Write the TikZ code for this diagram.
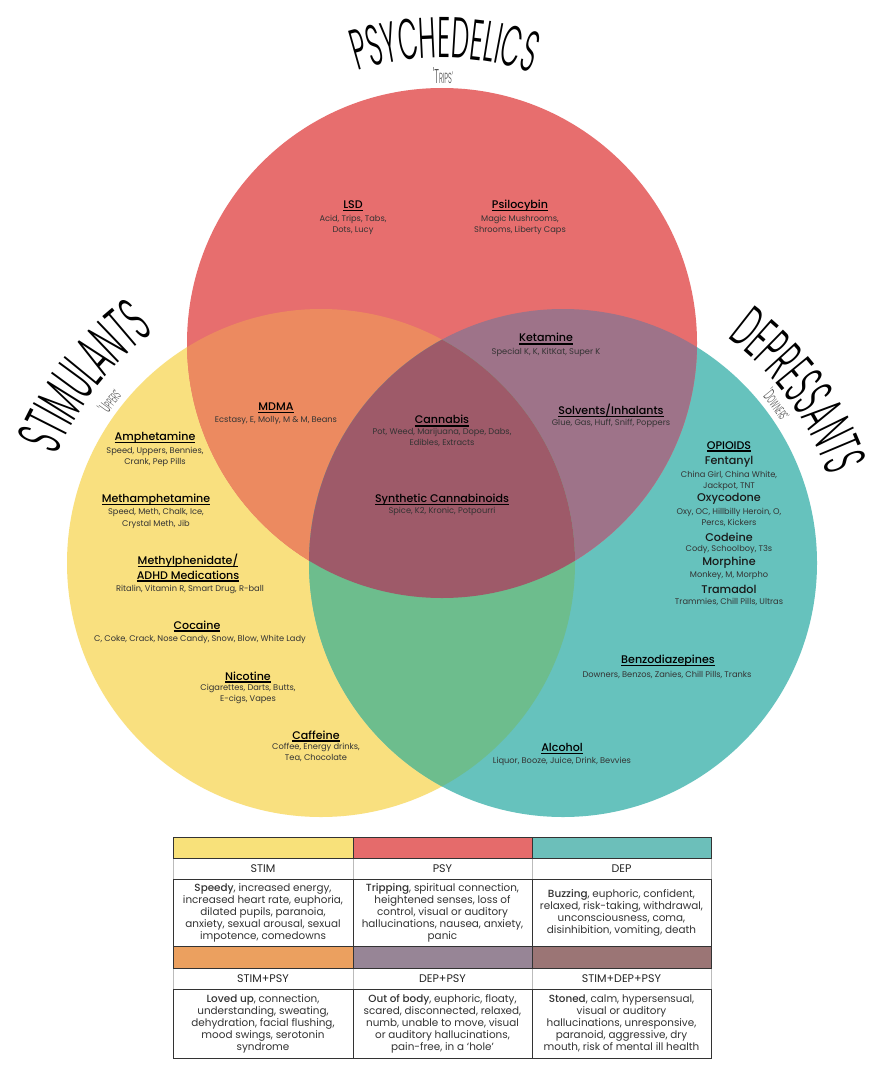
\documentclass[tikz,border=0pt]{standalone}
\usepackage{fontspec}
\setmainfont{Poppins}
\IfFontExistsTF{Poppins Medium}{\newfontfamily\medf{Poppins Medium}}{\newfontfamily\medf{Poppins}}
\IfFontExistsTF{Poppins Light}{\newfontfamily\ttl[FakeStretch=0.45]{Poppins Light}}{\newfontfamily\ttl[FakeStretch=0.45]{Poppins}}
\usetikzlibrary{decorations.text}
\definecolor{vennY}{HTML}{F9E07F}
\definecolor{vennR}{HTML}{E76E6E}
\definecolor{vennT}{HTML}{66C2BD}
\definecolor{vennO}{HTML}{EC8A60}
\definecolor{vennM}{HTML}{9E7389}
\definecolor{vennG}{HTML}{6DBD8D}
\definecolor{vennC}{HTML}{9E5A69}
\definecolor{swY}{HTML}{F8E17A}
\definecolor{swR}{HTML}{E56B6B}
\definecolor{swT}{HTML}{6CBFBA}
\definecolor{swO}{HTML}{EBA05F}
\definecolor{swP}{HTML}{978596}
\definecolor{swB}{HTML}{9B7575}
\definecolor{subc}{HTML}{333333}
\definecolor{bordc}{HTML}{333333}
\definecolor{lgrayc}{HTML}{BBBBBB}
\newcommand\ulx[1]{\setbox0\hbox{#1}\rlap{\rule[-1.9pt]{\wd0}{1.15pt}}\box0}
\begin{document}
\begin{tikzpicture}[x=0.75pt,y=0.75pt,
  hd/.style={font=\medf\fontsize{8.3}{9}\selectfont, text=black, inner sep=0pt},
  nm/.style={font=\medf\fontsize{8.4}{9}\selectfont, text=black!90, inner sep=0pt},
  sub/.style={font=\fontsize{6.2}{8.3}\selectfont, text=subc, align=center, inner sep=0pt},
  th/.style={font=\fontsize{8.3}{9}\selectfont, text=black!85, inner sep=0pt},
  tb/.style={font=\fontsize{7.8}{9}\selectfont, text=black!80, align=center, inner sep=0pt},
  ttlp/.style={decorate, decoration={text along path, text align=center, text={#1}}}
]
\useasboundingbox (0,0) rectangle (882,-1070);
\fill[white] (0,0) rectangle (882,-1070);
\coordinate (cR) at (442,-343);
\coordinate (cY) at (321,-563);
\coordinate (cT) at (563,-563);
% circles
\fill[vennY] (cY) circle[radius=190.5pt];
\fill[vennT] (cT) circle[radius=190.5pt];
\fill[vennR] (cR) circle[radius=191.25pt];
\begin{scope}
  \clip (cY) circle[radius=190.5pt];
  \fill[vennO] (cR) circle[radius=191.25pt];
\end{scope}
\begin{scope}
  \clip (cT) circle[radius=190.5pt];
  \fill[vennM] (cR) circle[radius=191.25pt];
\end{scope}
\begin{scope}
  \clip (cY) circle[radius=190.5pt];
  \fill[vennG] (cT) circle[radius=190.5pt];
\end{scope}
\begin{scope}
  \clip (cY) circle[radius=190.5pt];
  \clip (cT) circle[radius=190.5pt];
  \fill[vennC] (cR) circle[radius=191.25pt];
\end{scope}
% titles
\path[ttlp={|\ttl\fontsize{43}{43}\selectfont|PSYCHEDELICS}] ([shift={(115:213.75pt)}]cR) arc[start angle=115, end angle=64, radius=213.75pt];
\path[ttlp={|\ttl\fontsize{47}{47}\selectfont|STIMULANTS}] ([shift={(172:213.75pt)}]cY) arc[start angle=172, end angle=111.6, radius=213.75pt];
\path[ttlp={|\ttl\fontsize{45}{45}\selectfont|DEPRESSANTS}] ([shift={(66:209pt)}]cT) arc[start angle=66, end angle=6, radius=209pt];
\node[inner sep=0pt, text=black!70] (trips) at (443,-76) {\ttl\fontsize{15}{15}\selectfont 'T\fontsize{11}{11}\selectfont RIPS'};
\path[ttlp={|\ttl\fontsize{13}{13}\selectfont\color{black!70}|'U|\ttl\fontsize{10}{10}\selectfont\color{black!70}|PPERS'}] ([shift={(152:195pt)}]cY) arc[start angle=152, end angle=133, radius=195pt];
\path[ttlp={|\ttl\fontsize{13}{13}\selectfont\color{black!70}|'D|\ttl\fontsize{10}{10}\selectfont\color{black!70}|OWNERS'}] ([shift={(47:195pt)}]cT) arc[start angle=47, end angle=26, radius=195pt];
% psychedelics
\node[hd] (lsd) at (353,-206) {\ulx{LSD}};
\node[sub] (lsds) at (353,-224.5) {Acid, Trips, Tabs,\\Dots, Lucy};
\node[hd] (psi) at (520,-206) {\ulx{Psilocybin}};
\node[sub] (psis) at (520,-224.5) {Magic Mushrooms,\\Shrooms, Liberty Caps};
\node[hd] (ket) at (546,-339) {\ulx{Ketamine}};
\node[sub] (kets) at (546,-352) {Special K, K, KitKat, Super K};
\node[hd] (mdma) at (276,-408) {\ulx{MDMA}};
\node[sub] (mdmas) at (276,-421) {Ecstasy, E, Molly, M \& M, Beans};
\node[hd] (can) at (442,-421) {\ulx{Cannabis}};
\node[sub] (cans) at (442,-437.5) {Pot, Weed, Marijuana, Dope, Dabs,\\Edibles, Extracts};
\node[hd] (sol) at (611,-411) {\ulx{Solvents/Inhalants}};
\node[sub] (sols) at (611,-423) {Glue, Gas, Huff, Sniff, Poppers};
\node[hd] (syn) at (442,-500) {\ulx{Synthetic Cannabinoids}};
\node[sub] (syns) at (442,-511.5) {Spice, K2, Kronic, Potpourri};
% stimulants
\node[hd] (amp) at (155,-438) {\ulx{Amphetamine}};
\node[sub] (amps) at (155,-457) {Speed, Uppers, Bennies,\\Crank, Pep Pills};
\node[hd] (meth) at (156,-500) {\ulx{Methamphetamine}};
\node[sub] (meths) at (156,-518.5) {Speed, Meth, Chalk, Ice,\\Crystal Meth, Jib};
\node[hd] (mph) at (188,-561) {\ulx{Methylphenidate/}};
\node[hd] (adhd) at (188,-576) {\ulx{ADHD Medications}};
\node[sub] (mphs) at (190,-589.5) {Ritalin, Vitamin R, Smart Drug, R-ball};
\node[hd] (coc) at (197,-626) {\ulx{Cocaine}};
\node[sub] (cocs) at (200,-639.5) {C, Coke, Crack, Nose Candy, Snow, Blow, White Lady};
\node[hd] (nic) at (248,-677) {\ulx{Nicotine}};
\node[sub] (nics) at (248,-693.5) {Cigarettes, Darts, Butts,\\E-cigs, Vapes};
\node[hd] (caf) at (316,-736) {\ulx{Caffeine}};
\node[sub] (cafs) at (316,-752.5) {Coffee, Energy drinks,\\Tea, Chocolate};
% depressants
\node[hd] (opi) at (729,-446.5) {\ulx{OPIOIDS}};
\node[nm] (fen) at (729,-462) {Fentanyl};
\node[sub] (fens) at (729,-480.5) {China Girl, China White,\\Jackpot, TNT};
\node[nm] (oxy) at (729,-499) {Oxycodone};
\node[sub] (oxys) at (729,-517) {Oxy, OC, Hillbilly Heroin, O,\\Percs, Kickers};
\node[nm] (cod) at (729,-537) {Codeine};
\node[sub] (cods) at (729,-550) {Cody, Schoolboy, T3s};
\node[nm] (mor) at (729,-563) {Morphine};
\node[sub] (mors) at (729,-576) {Monkey, M, Morpho};
\node[nm] (tra) at (729,-589) {Tramadol};
\node[sub] (tras) at (729,-602) {Trammies, Chill Pills, Ultras};
\node[hd] (ben) at (668,-661) {\ulx{Benzodiazepines}};
\node[sub] (bens) at (667,-674.5) {Downers, Benzos, Zanies, Chill Pills, Tranks};
\node[hd] (alc) at (562,-749) {\ulx{Alcohol}};
\node[sub] (alcs) at (562,-761.5) {Liquor, Booze, Juice, Drink, Bevvies};
% table
\fill[swY] (173,-837) rectangle (353,-858);
\fill[swR] (353,-837) rectangle (532,-858);
\fill[swT] (532,-837) rectangle (711,-858);
\fill[swO] (173,-946) rectangle (353,-968);
\fill[swP] (353,-946) rectangle (532,-968);
\fill[swB] (532,-946) rectangle (711,-968);
\draw[lgrayc, line width=0.6pt] (173,-858) rectangle (711,-879) (353,-858) -- (353,-879) (532,-858) -- (532,-879);
\draw[lgrayc, line width=0.6pt] (173,-968) rectangle (711,-989) (353,-968) -- (353,-989) (532,-968) -- (532,-989);
\draw[bordc, line width=0.7pt] (173,-837) rectangle (711,-858) (353,-837) -- (353,-858) (532,-837) -- (532,-858);
\draw[bordc, line width=0.7pt] (173,-879) rectangle (711,-946) (353,-879) -- (353,-946) (532,-879) -- (532,-946);
\draw[bordc, line width=0.7pt] (173,-946) rectangle (711,-968) (353,-946) -- (353,-968) (532,-946) -- (532,-968);
\draw[bordc, line width=0.7pt] (173,-989) rectangle (711,-1058) (353,-989) -- (353,-1058) (532,-989) -- (532,-1058);
\node[th] (h1) at (263,-869) {STIM};
\node[th] (h2) at (442.5,-869) {PSY};
\node[th] (h3) at (621.5,-869) {DEP};
\node[th] (h4) at (263,-979) {STIM+PSY};
\node[th] (h5) at (442.5,-979) {DEP+PSY};
\node[th] (h6) at (621.5,-979) {STIM+DEP+PSY};
\node[tb] (b1) at (263,-912.5) {{\medf Speedy}, increased energy,\\increased heart rate, euphoria,\\dilated pupils, paranoia,\\anxiety, sexual arousal, sexual\\impotence, comedowns};
\node[tb] (b2) at (442.5,-912.5) {{\medf Tripping}, spiritual connection,\\heightened senses, loss of\\control, visual or auditory\\hallucinations, nausea, anxiety,\\panic};
\node[tb] (b3) at (621.5,-912.5) {{\medf Buzzing}, euphoric, confident,\\relaxed, risk-taking, withdrawal,\\unconsciousness, coma,\\disinhibition, vomiting, death};
\node[tb] (b4) at (263,-1023.5) {{\medf Loved up}, connection,\\understanding, sweating,\\dehydration, facial flushing,\\mood swings, serotonin\\syndrome};
\node[tb] (b5) at (442.5,-1023.5) {{\medf Out of body}, euphoric, floaty,\\scared, disconnected, relaxed,\\numb, unable to move, visual\\or auditory hallucinations,\\pain-free, in a `hole'};
\node[tb] (b6) at (621.5,-1023.5) {{\medf Stoned}, calm, hypersensual,\\visual or auditory\\hallucinations, unresponsive,\\paranoid, aggressive, dry\\mouth, risk of mental ill health};
\end{tikzpicture}
\end{document}
